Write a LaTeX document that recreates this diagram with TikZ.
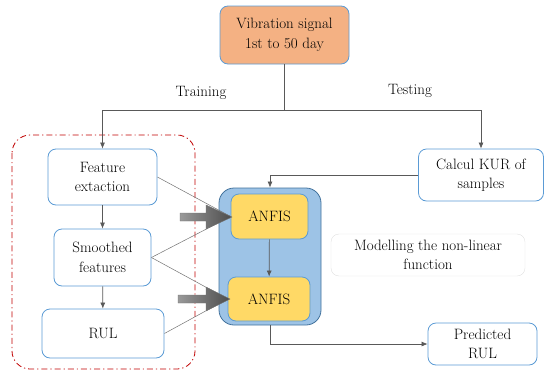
\documentclass[tikz,border=0pt]{standalone}
\usepackage{xcolor}
\usetikzlibrary{arrows.meta}
\definecolor{boxline}{HTML}{5B9BD5}
\definecolor{vibfill}{HTML}{F4B183}
\definecolor{anfisfill}{HTML}{FFD966}
\definecolor{bluefill}{HTML}{9DC3E6}
\definecolor{blueline}{HTML}{41719C}
\definecolor{grpline}{HTML}{C00000}
\tikzset{every node/.style={font=\fontsize{15}{19.5}\selectfont,align=center,inner sep=0pt},
  box/.style={draw=boxline,line width=0.8pt,rounded corners=8pt,fill=white},
  conn/.style={draw=black!65,line width=0.7pt},
  tip/.style={-{Latex[length=6pt,width=5pt]}},
  thin/.style={draw=black!55,line width=0.5pt}}

\begin{document}
\begin{tikzpicture}[x=1pt,y=-1pt]
\useasboundingbox (0,0) rectangle (545,372);
% group of training steps
\draw[grpline,line width=0.8pt,rounded corners=18pt,dash pattern=on 6pt off 3pt on 1.2pt off 3pt] (12,135) rectangle (195,369);

% create the nodes
\node[box,fill=vibfill,minimum width=129pt,minimum height=58pt] (vib) at (284.5,35) {Vibration signal\\1st to 50 day};
\node[box,minimum width=109pt,minimum height=56pt] (feat) at (102.5,177) {Feature\\extaction};
\node[box,minimum width=97pt,minimum height=57pt] (smooth) at (102.5,257.5) {Smoothed\\features};
\node[box,minimum width=122pt,minimum height=49pt] (rul) at (103,333.5) {RUL};
\node[box,minimum width=125pt,minimum height=52pt] (calc) at (481,175) {Calcul KUR of\\samples};
\node[draw=blueline,fill=bluefill,line width=0.8pt,rounded corners=15pt,minimum width=102pt,minimum height=137pt] (blue) at (270,256.5) {};
\node[box,fill=anfisfill,minimum width=77pt,minimum height=45pt] (anfisA) at (269.5,216.5) {ANFIS};
\node[box,fill=anfisfill,minimum width=82pt,minimum height=44pt] (anfisB) at (269,299) {ANFIS};
\node[draw=black!12,rounded corners=8pt,minimum width=194pt,minimum height=42pt] (model) at (428,255) {Modelling the non-linear\\function};
\node[box,minimum width=109pt,minimum height=42pt] (pred) at (482.5,344) {Predicted\\RUL};
\node (train) at (201,93) {Training};
\node (test) at (410,91) {Testing};

% split of the signal
\coordinate (split) at (284.5,110);
\draw[conn] (vib) -- (split);
\draw[conn,tip] (split) -| (feat);
\draw[conn,tip] (split) -| (calc);

\foreach \y\z in {feat/smooth,smooth/rul}
  \draw[conn,tip] (\y) -- (\z);
\draw[conn,tip] (anfisA) -- (anfisB);
\draw[conn,tip] (calc.west) -| (blue.north);
\draw[conn,tip] (blue.south) |- (pred.west);

\foreach \y\z in {feat/anfisA,smooth/anfisA,smooth/anfisB,rul/anfisB}
  \path[thin] (\y.east) edge (\z.west);

% grey block arrows
\foreach \x\t\c in {180/232/217,178/230/299}
  \draw[black!55,line width=0.4pt,left color=black!40,right color=black!70]
    (\x,\c-4) -- (206,\c-4) -- (206,\c-12) -- (\t,\c) -- (206,\c+12) -- (206,\c+4) -- (\x,\c+4) -- cycle;

\end{tikzpicture}
\end{document}
